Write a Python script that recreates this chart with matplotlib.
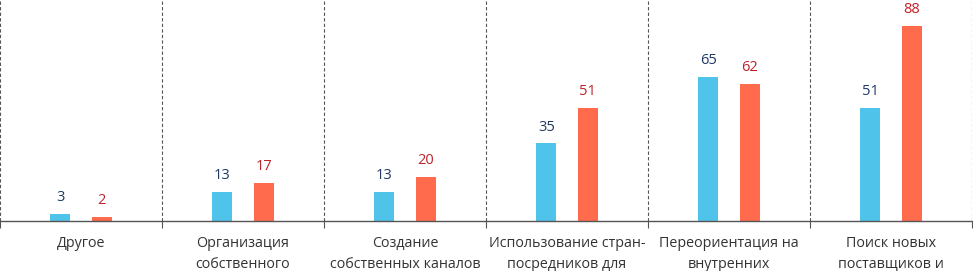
import matplotlib
matplotlib.use("Agg")
import matplotlib.pyplot as plt
import numpy as np

# ─── Data ────────────────────────────────────────────────────────────────────
categories = [
    "Другое",
    "Организация\nсобственного",
    "Создание\nсобственных каналов",
    "Использование стран-\nпосредников для",
    "Переориентация на\nвнутренних",
    "Поиск новых\nпоставщиков и",
]
series_a = [3, 13, 13, 35, 65, 51]
series_b = [2, 17, 20, 51, 62, 88]

COLOR_A, COLOR_B = "#4FC3EA", "#FF6B4C"
TEXT_A, TEXT_B = "#1F3864", "#C0202A"

plt.rcParams["font.family"] = ["Open Sans", "DejaVu Sans"]

fig = plt.figure(figsize=(9.73, 2.71), dpi=100)
ax = fig.add_axes([0.0, 1 - 221 / 271, 972 / 973, 221 / 271])

x = np.arange(len(categories))
off, w = 0.127, 0.123
ax.bar(x - off, series_a, width=w, color=COLOR_A)
ax.bar(x + off, series_b, width=w, color=COLOR_B)

for xi, a, b in zip(x, series_a, series_b):
    ax.text(xi - off, a + 4, str(a), ha="center", va="bottom", fontsize=10.5, color=TEXT_A)
    ax.text(xi + off, b + 4, str(b), ha="center", va="bottom", fontsize=10.5, color=TEXT_B)

# dashed separators between categories
for s in np.arange(-0.5, len(categories), 1.0):
    ax.axvline(s, color="#555555", linestyle=(0, (3, 2)), linewidth=0.8)

ax.set_xlim(-0.5, len(categories) - 0.5)
ax.set_ylim(0, 99.7)
ax.set_yticks([])
ax.set_xticks(np.arange(-0.5, len(categories), 1.0), minor=True)
ax.set_xticks(x)
ax.set_xticklabels(categories, fontsize=10.3, color="#333333", linespacing=1.5)
ax.tick_params(axis="x", which="major", length=0, pad=11)
ax.tick_params(axis="x", which="minor", length=5, color="#555555", width=0.8)
for sp in ["top", "left", "right"]:
    ax.spines[sp].set_visible(False)
ax.spines["bottom"].set_color("#555555")
ax.spines["bottom"].set_linewidth(1.0)

fig.savefig("out.png", dpi=100)
